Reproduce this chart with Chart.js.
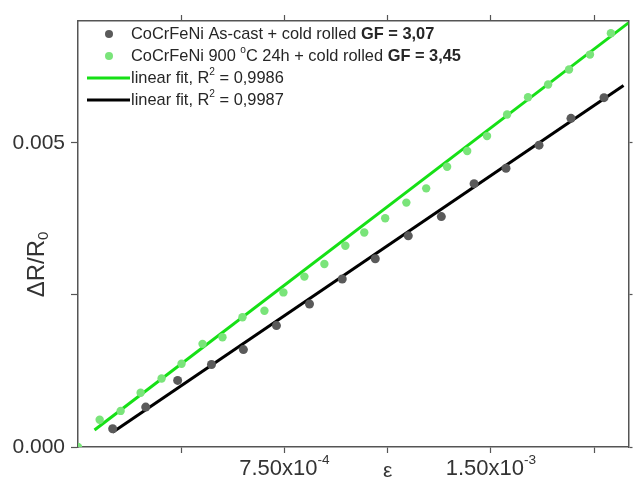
<!DOCTYPE html>
<html>
<head>
<meta charset="utf-8">
<script src="https://cdn.jsdelivr.net/npm/chart.js@4"></script>
<style>
  html, body { margin: 0; padding: 0; background: #fff; }
  canvas { display: block; }
</style>
</head>
<body>
<canvas id="c" width="633" height="482"></canvas>
<script>
// ---------- data ----------
const asCastStrain = [1.26e-4, 2.46e-4, 3.62e-4, 4.85e-4, 6.01e-4, 7.21e-4, 8.41e-4, 9.60e-4,
  1.080e-3, 1.200e-3, 1.320e-3, 1.439e-3, 1.555e-3, 1.675e-3, 1.791e-3, 1.911e-3];
const asCastDR = [3.0e-4, 6.56e-4, 1.094e-3, 1.355e-3, 1.601e-3, 1.995e-3, 2.35e-3, 2.76e-3,
  3.093e-3, 3.47e-3, 3.786e-3, 4.327e-3, 4.58e-3, 4.96e-3, 5.40e-3, 5.74e-3];

const annealedStrain = [0, 7.87e-5, 1.549e-4, 2.275e-4, 3.037e-4, 3.762e-4, 4.524e-4, 5.249e-4,
  5.975e-4, 6.773e-4, 7.463e-4, 8.225e-4, 8.951e-4, 9.713e-4, 1.040e-3, 1.116e-3, 1.193e-3,
  1.265e-3, 1.341e-3, 1.414e-3, 1.486e-3, 1.559e-3, 1.635e-3, 1.708e-3, 1.784e-3, 1.860e-3, 1.936e-3];
const annealedDR = [0, 4.49e-4, 5.93e-4, 8.92e-4, 1.126e-3, 1.367e-3, 1.695e-3, 1.803e-3,
  2.131e-3, 2.24e-3, 2.54e-3, 2.80e-3, 3.006e-3, 3.306e-3, 3.524e-3, 3.76e-3, 4.016e-3,
  4.25e-3, 4.606e-3, 4.863e-3, 5.109e-3, 5.464e-3, 5.748e-3, 5.956e-3, 6.202e-3, 6.448e-3, 6.80e-3];

// fitted lines (end points)
const fitAnnealedX = [6.0e-5, 2.0e-3];
const fitAnnealedY = [2.8e-4, 6.97e-3];
const fitAsCastX = [1.26e-4, 1.982e-3];
const fitAsCastY = [2.41e-4, 5.94e-3];

// axes
const xTickValues = [3.75e-4, 7.5e-4, 1.125e-3, 1.5e-3, 1.875e-3];
const xLabelValues = [7.5e-4, 1.5e-3];
const xLabelBases = ['7.50x10', '1.50x10'];
const xLabelExps = ['-4', '-3'];
const yTickValues = [0, 0.0025, 0.005];
const yTickLabels = ['0.000', '', '0.005'];
const xRange = [0, 0.002];
const yRange = [0, 0.007];

const legendRows = [
  { kind: 'dot', color: '#5a5a5a', parts: [{ t: 'CoCrFeNi As-cast + cold rolled ' }, { t: 'GF = 3,07', b: true }] },
  { kind: 'dot', color: '#7ae47a', parts: [{ t: 'CoCrFeNi 900 ' }, { t: 'o', sup: true }, { t: 'C 24h + cold rolled ' }, { t: 'GF = 3,45', b: true }] },
  { kind: 'line', color: '#16e016', parts: [{ t: 'linear fit, R' }, { t: '2', sup: true }, { t: ' = 0,9986' }] },
  { kind: 'line', color: '#000000', parts: [{ t: 'linear fit, R' }, { t: '2', sup: true }, { t: ' = 0,9987' }] }
];

// ---------- build ----------
const pts = (xs, ys) => xs.map((x, i) => ({ x: x, y: ys[i] }));
const FONT = "'Liberation Sans', Arial, sans-serif";
const TXT = '#333333';
const AXIS = '#555555';

function richText(ctx, x, y, parts, size) {
  let cx = x;
  parts.forEach(p => {
    const s = p.sup ? size * 0.62 : size;
    ctx.font = (p.b ? 'bold ' : '') + s + 'px ' + FONT;
    const dy = p.sup ? -size * 0.38 : 0;
    ctx.fillText(p.t, cx, y + dy);
    cx += ctx.measureText(p.t).width;
  });
  return cx - x;
}
function richWidth(ctx, parts, size) {
  let w = 0;
  parts.forEach(p => {
    const s = p.sup ? size * 0.62 : size;
    ctx.font = (p.b ? 'bold ' : '') + s + 'px ' + FONT;
    w += ctx.measureText(p.t).width;
  });
  return w;
}

const overlay = {
  id: 'overlay',
  afterDraw(chart) {
    const ctx = chart.ctx;
    const xs = chart.scales.x, ys = chart.scales.y;
    const area = chart.chartArea;
    ctx.save();
    ctx.fillStyle = TXT;
    ctx.textBaseline = 'middle';
    ctx.textAlign = 'left';
    // x tick labels with exponents
    xLabelValues.forEach((v, i) => {
      const parts = [{ t: xLabelBases[i] }, { t: xLabelExps[i], sup: true }];
      const w = richWidth(ctx, parts, 22);
      richText(ctx, xs.getPixelForValue(v) - w / 2, area.bottom + 22, parts, 22);
    });
    // x title
    ctx.font = '21px ' + FONT;
    ctx.textAlign = 'center';
    ctx.fillText('ε', xs.getPixelForValue(1.125e-3), area.bottom + 24);
    // y title, rotated
    ctx.save();
    ctx.translate(37, ys.getPixelForValue(0.0030));
    ctx.rotate(-Math.PI / 2);
    ctx.textAlign = 'left';
    ctx.font = '24px ' + FONT;
    const w1 = ctx.measureText('ΔR/R').width;
    ctx.font = '15px ' + FONT;
    const w2 = ctx.measureText('0').width;
    const sx = -(w1 + w2) / 2;
    ctx.font = '24px ' + FONT;
    ctx.fillText('ΔR/R', sx, 0);
    ctx.font = '15px ' + FONT;
    ctx.fillText('0', sx + w1, 7);
    ctx.restore();
    // legend
    ctx.textAlign = 'left';
    legendRows.forEach((r, i) => {
      const y = area.top + 13 + i * 22;
      if (r.kind === 'dot') {
        ctx.beginPath();
        ctx.fillStyle = r.color;
        ctx.arc(area.left + 31, y, 4, 0, Math.PI * 2);
        ctx.fill();
      } else {
        ctx.strokeStyle = r.color;
        ctx.lineWidth = 3;
        ctx.beginPath();
        ctx.moveTo(area.left + 9, y);
        ctx.lineTo(area.left + 52, y);
        ctx.stroke();
      }
      ctx.fillStyle = '#262626';
      richText(ctx, area.left + 53, y, r.parts, 16.4);
    });
    ctx.restore();
  }
};

const gridOff = (len) => ({
  drawOnChartArea: false, drawTicks: true, tickLength: len, tickColor: AXIS, tickWidth: 1.2
});
const borderOn = { display: true, color: AXIS, width: 1.5 };

new Chart(document.getElementById('c'), {
  type: 'scatter',
  data: {
    datasets: [
      {
        label: 'CoCrFeNi As-cast + cold rolled GF = 3,07',
        data: pts(asCastStrain, asCastDR),
        backgroundColor: '#5a5a5a', borderColor: '#5a5a5a',
        pointRadius: 4.5, pointBorderWidth: 0, showLine: false, order: 0, clip: 0
      },
      {
        label: 'CoCrFeNi 900 °C 24h + cold rolled GF = 3,45',
        data: pts(annealedStrain, annealedDR),
        backgroundColor: '#7ae47a', borderColor: '#7ae47a',
        pointRadius: 4.2, pointBorderWidth: 0, showLine: false, order: 1, clip: 0
      },
      {
        label: 'linear fit, R² = 0,9986',
        data: pts(fitAnnealedX, fitAnnealedY),
        borderColor: '#16e016', backgroundColor: '#16e016',
        borderWidth: 3, pointRadius: 0, showLine: true, order: 2, clip: 0
      },
      {
        label: 'linear fit, R² = 0,9987',
        data: pts(fitAsCastX, fitAsCastY),
        borderColor: '#000000', backgroundColor: '#000000',
        borderWidth: 3, pointRadius: 0, showLine: true, order: 2, clip: 0
      }
    ]
  },
  options: {
    responsive: false,
    animation: false,
    layout: { padding: 0 },
    plugins: { legend: { display: false }, tooltip: { enabled: false } },
    scales: {
      x: {
        type: 'linear', position: 'bottom', min: xRange[0], max: xRange[1],
        afterBuildTicks: s => { s.ticks = xTickValues.map(v => ({ value: v })); },
        afterFit: s => { s.height = 35; },
        ticks: { display: false },
        grid: gridOff(6), border: borderOn
      },
      x2: {
        type: 'linear', position: 'top', min: xRange[0], max: xRange[1],
        afterBuildTicks: s => { s.ticks = xTickValues.map(v => ({ value: v })); },
        afterFit: s => { s.height = 21; },
        ticks: { display: false },
        grid: gridOff(6), border: borderOn
      },
      y: {
        type: 'linear', position: 'left', min: yRange[0], max: yRange[1],
        afterBuildTicks: s => { s.ticks = yTickValues.map(v => ({ value: v })); },
        afterFit: s => { s.width = 78; },
        ticks: {
          color: TXT, font: { family: FONT, size: 21 }, padding: 6,
          callback: (v, i) => yTickLabels[i]
        },
        grid: gridOff(7), border: borderOn
      },
      y2: {
        type: 'linear', position: 'right', min: yRange[0], max: yRange[1],
        afterBuildTicks: s => { s.ticks = yTickValues.map(v => ({ value: v })); },
        afterFit: s => { s.width = 4; },
        ticks: { display: false },
        grid: gridOff(4), border: borderOn
      }
    }
  },
  plugins: [overlay]
});
</script>
</body>
</html>
